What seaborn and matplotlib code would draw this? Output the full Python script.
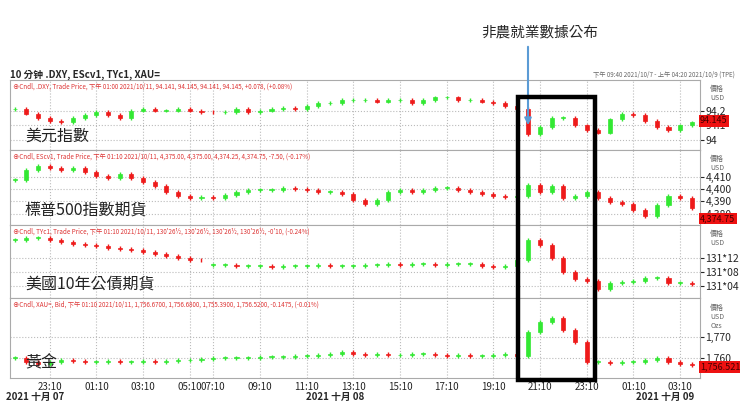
import numpy as np
import matplotlib
matplotlib.use("Agg")
from matplotlib import pyplot as plt
from matplotlib.patches import Rectangle
from matplotlib.ticker import FuncFormatter
import seaborn as sns

nan = np.nan
# 30-minute closes, first bar ~22:40 on 10/7 (Taipei time)
dxy = [94.21, 94.18, 94.15, 94.13, 94.12, 94.15, 94.17, 94.19, 94.17, 94.15,
       94.20, 94.21, 94.20, 94.20, 94.21, 94.20, 94.19, nan, 94.19, 94.21,
       94.19, 94.20, 94.21, 94.22, 94.21, 94.23, 94.25, 94.25, 94.27, 94.27,
       94.27, 94.26, 94.27, 94.27, 94.25, 94.27, 94.29, 94.29, 94.27, 94.27,
       94.26, 94.25, 94.23, 94.21, 94.04, 94.09, 94.15, 94.15, 94.10, 94.07,
       94.05, 94.14, 94.18, 94.17, 94.13, 94.09, 94.07, 94.10, 94.12, 94.13]
es = [4407.3, 4415.4, 4418.7, 4417.1, 4415.4, 4417.1, 4413.8, 4410.6, 4408.9, 4412.2,
      4408.9, 4405.7, 4402.4, 4397.6, 4394.3, 4392.7, 4393.5, 4392.7, 4395.1, 4397.6,
      4399.2, 4399.2, 4399.2, 4400.8, 4400.0, 4399.2, 4397.6, 4397.6, 4395.9, 4391.1,
      4387.8, 4391.1, 4397.6, 4399.2, 4397.6, 4399.2, 4400.8, 4400.8, 4399.2, 4397.6,
      4395.9, 4394.3, 4393.5, 4394.3, 4403.3, 4397.6, 4402.4, 4392.7, 4394.3, 4397.6,
      4392.7, 4389.4, 4387.8, 4382.9, 4378.0, 4387.0, 4394.3, 4392.7, 4384.6, 4376.0]
# TY in 32nds above 131
ty = [17.1, 17.7, 17.7, 17.1, 16.6, 16.0, 15.7, 15.4, 14.9, 14.6,
      14.3, 13.7, 13.1, 12.6, 12.0, 11.4, nan, 10.0, 10.0, 9.7,
      9.7, 9.7, 9.4, 9.7, 9.7, 9.7, 10.0, 9.7, 9.7, 9.7,
      10.0, 10.0, 10.3, 10.0, 10.3, 10.3, 10.0, 10.3, 10.3, 10.3,
      9.7, 9.4, 9.7, 11.4, 17.1, 15.7, 12.0, 8.0, 6.0, 5.4,
      3.1, 4.9, 5.1, 5.4, 6.3, 6.3, 4.9, 4.9, 4.6, 4.0]
gold = [1760.0, 1758.1, 1757.1, 1758.1, 1759.0, 1758.6, 1758.1, 1758.1, 1758.6, 1758.1,
        1758.1, 1758.6, 1758.1, 1758.6, 1759.0, 1759.0, 1759.5, 1760.0, 1760.0, 1760.0,
        1760.0, 1760.5, 1760.5, 1760.5, 1761.0, 1761.0, 1761.4, 1761.9, 1762.9, 1761.9,
        1761.4, 1761.9, 1761.4, 1761.4, 1761.9, 1761.9, 1761.4, 1761.0, 1761.4, 1761.0,
        1761.0, 1761.4, 1761.9, 1761.0, 1772.4, 1777.1, 1779.0, 1773.3, 1767.6, 1758.1,
        1758.1, 1757.6, 1758.1, 1758.1, 1759.0, 1760.0, 1758.1, 1757.1, 1756.7, 1755.7]

tick_pos = [1, 5, 9, 13, 15, 19, 23, 27, 31, 35, 39, 43, 47, 51, 55]
tick_labels = ["23:10", "01:10", "03:10", "05:10", "07:10", "09:10", "11:10", "13:10",
               "15:10", "17:10", "19:10", "21:10", "23:10", "01:10", "03:10"]

headers = ["Cndl, .DXY, Trade Price, 下午 01:00 2021/10/11, 94.141, 94.145, 94.141, 94.145, +0.078, (+0.08%)",
           "Cndl, EScv1, Trade Price, 下午 01:10 2021/10/11, 4,375.00, 4,375.00, 4,374.25, 4,374.75, -7.50, (-0.17%)",
           "Cndl, TYc1, Trade Price, 下午 01:10 2021/10/11, 130'26\u00bd, 130'26\u00bd, 130'26\u00bd, 130'26\u00bd, -0'10, (-0.24%)",
           "Cndl, XAU=, Bid, 下午 01:10 2021/10/11, 1,756.6700, 1,756.6800, 1,755.3900, 1,756.5200, -0.1475, (-0.01%)"]
names = ["美元指數", "標普500指數期貨", "美國10年公債期貨", "黃金"]
last_labels = ["94.145", "4,374.75", None, "1,756.521"]
series = [dxy, es, ty, gold]
ylims = [(93.933, 94.407), (4370.7, 4431.7), (0.6, 21.4), (1750.5, 1788.6)]
yticks = [[94.0, 94.1, 94.2], [4380, 4390, 4400, 4410], [4, 8, 12], [1760, 1770]]
ytick_fmt = [lambda v, p: f"{v:g}", lambda v, p: f"{v:,.0f}",
             lambda v, p: f"131*{int(round(v)):02d}", lambda v, p: f"{v:,.0f}"]
wick = [0.012, 1.6, 0.6, 0.9]
panels_px = [(80, 150), (150, 225), (225, 298), (298, 378)]

sns.set_style("white")
plt.rcParams['font.family'] = ['Noto Sans CJK TC', 'DejaVu Sans']

W, H = 740, 403
fig = plt.figure(figsize=(W / 100, H / 100), dpi=100)
green, red = "#33e833", "#ee1a1a"

for i, (vals, (top, bot)) in enumerate(zip(series, panels_px)):
    ax = fig.add_axes([10 / W, 1 - bot / H, 690 / W, (bot - top) / H])
    c = np.array(vals, dtype=float)
    x = np.arange(len(c)) - 2
    o = np.r_[c[0], c[:-1]]
    o = np.where(np.isnan(o), c, o)
    up = c >= o
    cols = np.where(up, green, red)
    hi = np.fmax(o, c) + wick[i]
    lo = np.fmin(o, c) - wick[i]
    ax.vlines(x, lo, hi, colors=cols, lw=1)
    height = np.where(np.abs(c - o) < wick[i] * 0.3, wick[i] * 0.3, np.abs(c - o))
    ax.bar(x, height, bottom=np.fmin(o, c), width=0.35, color=cols, edgecolor=cols, lw=0.5)
    ax.set_xlim(-2.4, 56.7)
    ax.set_ylim(*ylims[i])
    ax.set_xticks(tick_pos)
    ax.set_yticks(yticks[i])
    ax.yaxis.set_major_formatter(FuncFormatter(ytick_fmt[i]))
    ax.yaxis.tick_right()
    ax.tick_params(axis='y', labelsize=7.5, length=3, pad=1)
    ax.grid(True, color="#bbbbbb", ls=":", lw=0.8)
    for s in ax.spines.values():
        s.set_color("#aaaaaa")
        s.set_linewidth(0.8)
    if i < 3:
        ax.set_xticklabels([])
        ax.tick_params(axis='x', length=0)
    else:
        ax.set_xticklabels(tick_labels, fontsize=7)
        ax.tick_params(axis='x', length=0, pad=3)
    ax.text(0.004, 0.97, "\u2295" + headers[i], transform=ax.transAxes, fontsize=4.5,
            color="#dd3333", va="top", ha="left")
    ax.text(15 / 690, 0.08, names[i], transform=ax.transAxes, fontsize=11.5,
            color="#222222", va="bottom", ha="left")
    ax.text(1.015, 0.93, "價格\nUSD" + ("\nOzs" if i == 3 else ""), transform=ax.transAxes,
            fontsize=5, color="#666666", va="top", ha="left", linespacing=1.2)
    if last_labels[i]:
        ax.text(1.0, c[-1], last_labels[i], transform=ax.get_yaxis_transform(),
                fontsize=6.5, color="#440000", va="center", ha="left",
                bbox=dict(boxstyle="square,pad=0.15", fc="#ee1111", ec="none"))

fig.text(10 / W, 1 - 75 / H, "10 分钟 .DXY, EScv1, TYc1, XAU=", fontsize=7,
         fontweight="bold", va="center")
fig.text(735 / W, 1 - 75 / H, "下午 09:40 2021/10/7 - 上午 04:20 2021/10/9 (TPE)",
         fontsize=4.5, color="#666666", va="center", ha="right")
fig.text(35 / W, 1 - 397 / H, "2021 十月 07", fontsize=7, fontweight="bold", ha="center", va="center")
fig.text(335 / W, 1 - 397 / H, "2021 十月 08", fontsize=7, fontweight="bold", ha="center", va="center")
fig.text(665 / W, 1 - 397 / H, "2021 十月 09", fontsize=7, fontweight="bold", ha="center", va="center")

fig.patches.append(Rectangle((518 / W, 1 - 380 / H), 77 / W, 283 / H, transform=fig.transFigure,
                             fill=False, ec="black", lw=3.2))
fig.text(540 / W, 1 - 32 / H, "非農就業數據公布", fontsize=10.5, ha="center", va="center")
ax0 = fig.axes[0]
ax0.annotate("", xy=(528 / W, 1 - 128 / H), xytext=(528 / W, 1 - 44 / H),
             xycoords="figure fraction", textcoords="figure fraction",
             arrowprops=dict(arrowstyle="-|>", color="#5b9bd5", lw=1.5))

fig.savefig("out.png", dpi=100)
